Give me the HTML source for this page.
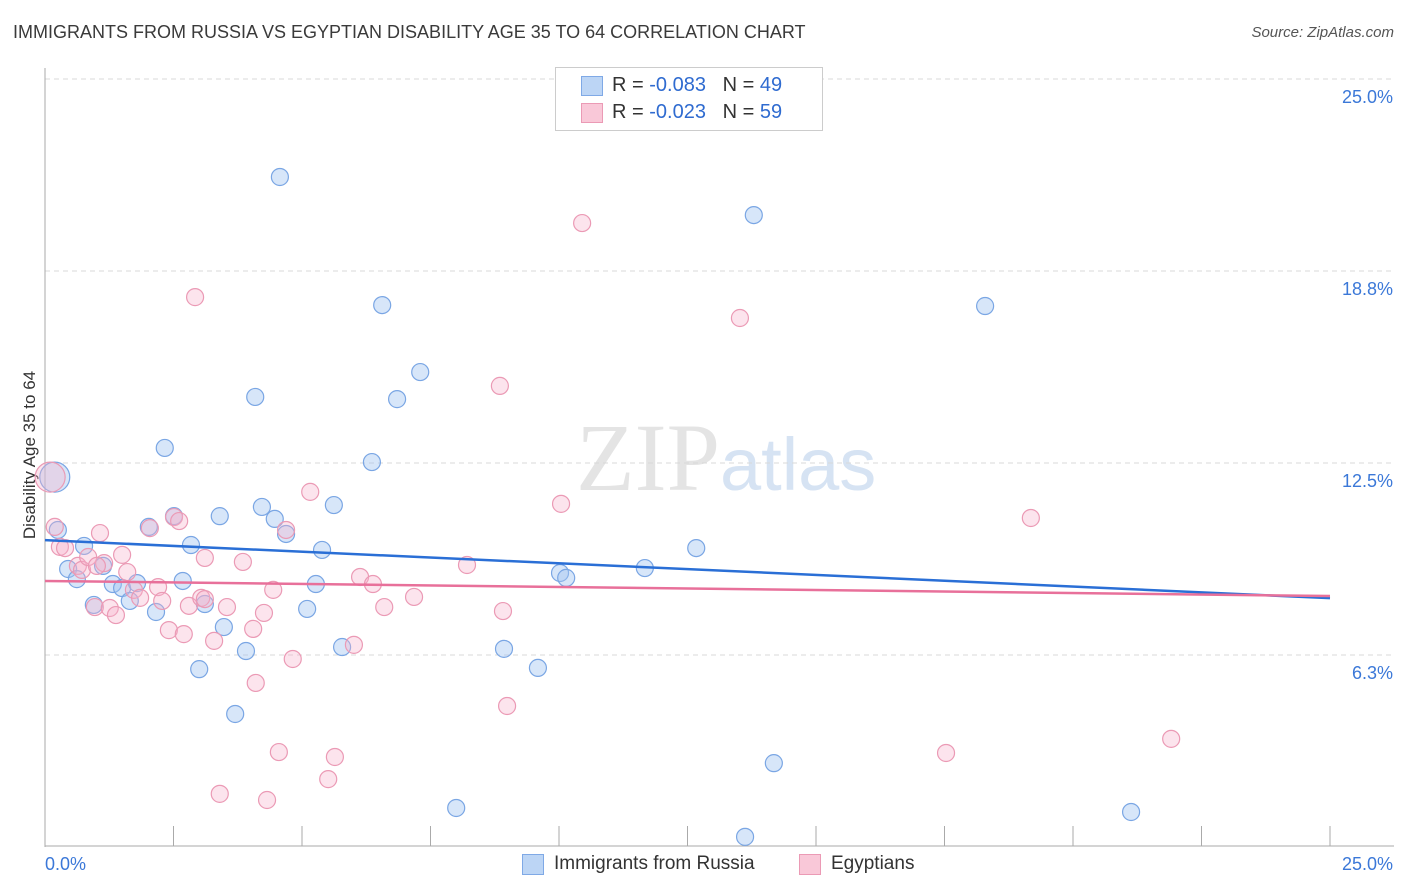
<!DOCTYPE html>
<html><head><meta charset="utf-8">
<style>
body{margin:0;background:#fff;font-family:"Liberation Sans",sans-serif;}
#wrap{position:relative;width:1406px;height:892px;overflow:hidden;}
.t{position:absolute;white-space:nowrap;}
</style></head><body>
<div id="wrap">
<div class="t" style="left:13px;top:22px;font-size:18px;color:#3a3a3a;">IMMIGRANTS FROM RUSSIA VS EGYPTIAN DISABILITY AGE 35 TO 64 CORRELATION CHART</div>
<div class="t" style="right:12px;top:24px;font-size:15px;color:#555;font-style:italic;">Source: ZipAtlas.com</div>
<div class="t" style="left:-55px;top:445px;font-size:17px;color:#333;transform:rotate(-90deg);width:170px;text-align:center;">Disability Age 35 to 64</div>
<svg id="plot" width="1406" height="892" style="position:absolute;left:0;top:0">
<text x="720" y="490" font-size="96" font-family="Liberation Serif" fill="#e4e4e4" text-anchor="end">ZIP</text>
<text x="720" y="490" font-size="74" font-family="Liberation Sans" fill="#d6e3f3">atlas</text>
</svg>
<div class="t" style="left:555px;top:67px;width:266px;height:62px;border:1px solid #ccc;background:#fff;"></div>
<div class="t" style="left:581px;top:76px;width:20px;height:18px;background:#bcd5f5;border:1px solid #7fa9e6;"></div>
<div class="t" style="left:581px;top:103px;width:20px;height:18px;background:#f9c8d8;border:1px solid #eb9ab5;"></div>
<div class="t" style="left:612px;top:74px;font-size:20px;color:#333;">R = <span style="color:#2f6bd0">-0.083</span>&nbsp;&nbsp;&nbsp;N = <span style="color:#2f6bd0">49</span></div>
<div class="t" style="left:612px;top:101px;font-size:20px;color:#333;">R = <span style="color:#2f6bd0">-0.023</span>&nbsp;&nbsp;&nbsp;N = <span style="color:#2f6bd0">59</span></div>
<div class="t" style="left:522px;top:854px;width:20px;height:19px;background:#bcd5f5;border:1px solid #7fa9e6;"></div>
<div class="t" style="left:554px;top:853px;font-size:19px;color:#333;">Immigrants from Russia</div>
<div class="t" style="left:799px;top:854px;width:20px;height:19px;background:#f9c8d8;border:1px solid #eb9ab5;"></div>
<div class="t" style="left:831px;top:853px;font-size:19px;color:#333;">Egyptians</div>
</div>
<script>
const xTickLabels=["0.0%","25.0%"];
const yTicks=[6.25,12.5,18.75,25];
const yTickLabels=["6.3%","12.5%","18.8%","25.0%"];
const russiaX=[0.19,0.25,0.76,0.45,0.62,1.13,1.32,1.50,1.79,1.65,0.95,2.16,2.51,2.33,2.68,2.84,3.11,3.40,3.48,3.00,3.70,3.91,4.09,4.22,4.47,4.69,4.57,5.10,5.27,5.39,5.62,5.78,6.36,6.56,6.85,7.30,8.00,8.93,9.59,10.02,10.14,11.67,12.67,13.79,14.18,13.62,18.29,21.13,2.02];
const russiaY=[12.04,10.32,9.80,9.05,8.72,9.15,8.56,8.43,8.59,8.01,7.88,7.65,10.77,12.99,8.66,9.83,7.91,10.77,7.16,5.79,4.33,6.38,14.65,11.07,10.68,10.19,21.81,7.75,8.56,9.67,11.13,6.51,12.53,17.64,14.58,15.46,1.27,6.45,5.83,8.92,8.76,9.08,9.73,20.57,2.73,0.33,17.61,1.14,10.42];
const egyptX=[0.10,0.19,0.29,0.39,0.64,0.72,0.84,1.07,1.15,1.01,0.97,1.26,1.38,1.50,1.60,1.73,1.85,2.04,2.20,2.28,2.41,2.51,2.61,2.70,2.80,2.92,3.04,3.11,3.11,3.29,3.40,3.54,3.85,4.05,4.10,4.26,4.32,4.44,4.55,4.69,4.82,5.16,5.51,5.64,6.01,6.13,6.38,6.60,7.18,8.21,8.85,8.91,8.99,10.04,10.45,13.52,17.53,19.18,21.91];
const egyptY=[12.04,10.42,9.77,9.73,9.15,9.02,9.44,10.22,9.24,9.15,7.81,7.78,7.55,9.51,8.95,8.37,8.11,10.38,8.46,8.01,7.06,10.74,10.61,6.93,7.85,17.90,8.11,8.07,9.41,6.71,1.73,7.81,9.28,7.10,5.34,7.62,1.53,8.37,3.09,10.32,6.12,11.56,2.21,2.93,6.58,8.79,8.56,7.81,8.14,9.18,15.01,7.68,4.59,11.17,20.31,17.22,3.06,10.71,3.52];
const russiaLine=[9.99,8.10];
const egyptLine=[8.66,8.17];
const X0=45,X1=1330,YB=847,YT=79;
function sx(v){return X0+(X1-X0)*v/25;}
function sy(v){return YB-(YB-YT)*v/25;}
const svg=document.getElementById('plot');const NS='http://www.w3.org/2000/svg';
function mk(tag,attrs){const e=document.createElementNS(NS,tag);for(const k in attrs)e.setAttribute(k,attrs[k]);svg.appendChild(e);return e;}
yTicks.forEach((t,i)=>{
 const g=mk('line',{x1:45,x2:1394,y1:sy(t),y2:sy(t),stroke:'#d8d8d8','stroke-dasharray':'5,4'});
 
 
 const l=mk('text',{x:1393,y:sy(t)+24,'font-size':18,fill:'#3b78d8','text-anchor':'end'});
 l.textContent=yTickLabels[i];
 
 
});
const ax=mk('line',{x1:45,x2:45,y1:68,y2:847,stroke:'#aaa'});


const bx=mk('line',{x1:45,x2:1394,y1:846,y2:846,stroke:'#aaa'});


for(let i=0;i<=10;i++){const tk=mk('line',{x1:sx(i*2.5),x2:sx(i*2.5),y1:826,y2:846,stroke:'#aaa'});
 
 }
const xl0=mk('text',{x:45,y:870,'font-size':18,fill:'#3b78d8'});xl0.textContent=xTickLabels[0];


const xl1=mk('text',{x:1393,y:870,'font-size':18,fill:'#3b78d8','text-anchor':'end'});xl1.textContent=xTickLabels[1];


function pts(xs,ys,fill,stroke,name){xs.forEach((x,i)=>{
 const c=mk('circle',{cx:sx(x),cy:sy(ys[i]),r:i===0?15:8.5,fill:fill,stroke:stroke,'stroke-width':1.2});
 
 });}
pts(russiaX,russiaY,'rgba(160,196,240,0.42)','#7aa6e4','russia-point');
pts(egyptX,egyptY,'rgba(246,178,202,0.35)','#eb9ab5','egyptian-point');
const rl=mk('line',{x1:sx(0),y1:sy(russiaLine[0]),x2:sx(25),y2:sy(russiaLine[1]),stroke:'#2a6fd6','stroke-width':2.5});


const el=mk('line',{x1:sx(0),y1:sy(egyptLine[0]),x2:sx(25),y2:sy(egyptLine[1]),stroke:'#e8709a','stroke-width':2.5});


</script>
</body></html>
